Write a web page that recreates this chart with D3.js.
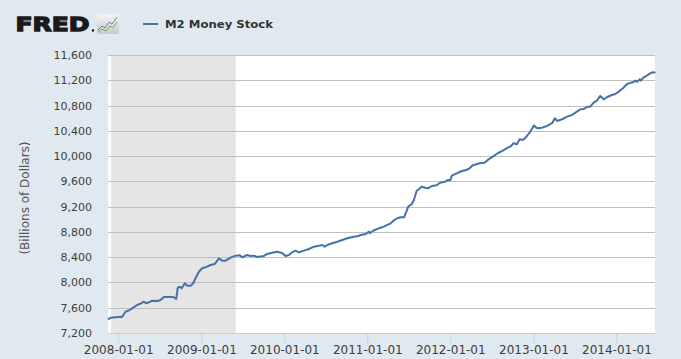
<!DOCTYPE html>
<html><head><meta charset="utf-8">
<script src="https://cdn.jsdelivr.net/npm/d3@7"></script>
<style>html,body{margin:0;padding:0;background:#E1E9F0;} svg{display:block}</style>
</head><body>
<svg id="c" width="681" height="359"></svg>
<script>
// ---- data ----
const dates = [
"2007-11-17","2007-11-29","2008-01-11","2008-01-18","2008-02-02","2008-02-17","2008-03-02","2008-03-24","2008-04-08","2008-04-23",
"2008-05-03","2008-05-15","2008-05-29","2008-06-20","2008-07-05","2008-07-20","2008-08-18","2008-09-02","2008-09-12","2008-09-19",
"2008-09-28","2008-10-06","2008-10-20","2008-10-30","2008-11-14","2008-11-26","2008-12-06","2008-12-21","2009-01-04","2009-01-19",
"2009-02-10","2009-03-01","2009-03-19","2009-04-02","2009-04-17","2009-05-09","2009-05-31","2009-06-19","2009-06-29","2009-07-21",
"2009-08-05","2009-08-20","2009-09-03","2009-10-03","2009-10-17","2009-11-08","2009-11-30","2009-12-22","2010-01-06","2010-01-21",
"2010-02-04","2010-02-19","2010-03-06","2010-03-28","2010-04-19","2010-05-11","2010-06-02","2010-06-17","2010-06-27","2010-07-09",
"2010-07-31","2010-08-22","2010-09-13","2010-10-05","2010-10-27","2010-11-18","2010-12-03","2010-12-25","2011-01-08","2011-01-12",
"2011-01-30","2011-02-21","2011-03-15","2011-03-30","2011-04-14","2011-04-28","2011-05-13","2011-05-28","2011-06-12","2011-06-18",
"2011-06-30","2011-07-15","2011-07-25","2011-08-06","2011-08-28","2011-09-12","2011-09-27","2011-10-11","2011-11-02","2011-11-17",
"2011-12-09","2011-12-21","2012-01-01","2012-01-08","2012-01-27","2012-02-18","2012-03-11","2012-03-26","2012-04-09","2012-04-24",
"2012-05-09","2012-05-31","2012-06-14","2012-07-06","2012-07-28","2012-08-19","2012-09-10","2012-09-25","2012-10-05","2012-10-20",
"2012-11-01","2012-11-15","2012-11-27","2012-12-15","2013-01-03","2013-01-17","2013-02-08","2013-03-02","2013-03-24","2013-04-05",
"2013-04-15","2013-05-07","2013-05-29","2013-06-20","2013-07-05","2013-07-27","2013-08-10","2013-08-28","2013-09-08","2013-09-23",
"2013-10-07","2013-10-22","2013-11-06","2013-11-20","2013-12-12","2013-12-27","2014-01-11","2014-01-30","2014-02-17","2014-03-06",
"2014-03-18","2014-03-26","2014-04-02","2014-04-14","2014-04-19","2014-05-01","2014-05-15","2014-05-30","2014-06-11","2014-06-22"
];
const values = [
7417,7442,7458,7453,7537,7559,7590,7643,7664,7695,
7670,7686,7711,7706,7722,7770,7770,7765,7738,7917,
7933,7907,7987,7949,7949,7987,8066,8170,8224,8240,
8276,8292,8382,8345,8345,8392,8424,8430,8398,8435,
8420,8424,8403,8420,8451,8471,8487,8466,8420,8435,
8477,8503,8477,8503,8530,8566,8582,8593,8566,8593,
8620,8645,8672,8699,8720,8731,8751,8767,8804,8778,
8826,8857,8883,8910,8936,8984,9016,9031,9031,9085,
9200,9238,9306,9448,9516,9500,9490,9527,9538,9579,
9595,9622,9617,9690,9722,9760,9780,9807,9855,9871,
9886,9896,9939,9992,10045,10086,10133,10160,10203,10187,
10266,10255,10292,10371,10485,10440,10450,10477,10520,10599,
10556,10583,10624,10651,10687,10741,10746,10782,10782,10845,
10877,10952,10899,10931,10967,10983,11020,11073,11141,11162,
11173,11194,11178,11216,11194,11247,11273,11311,11327,11321
];
const yTickValues = [7200,7600,8000,8400,8800,9200,9600,10000,10400,10800,11200,11600];
const xTickDates = ["2008-01-01","2009-01-01","2010-01-01","2011-01-01","2012-01-01","2013-01-01","2014-01-01"];
const recession = ["2007-12-01","2009-06-01"];
const seriesName = "M2 Money Stock";
const yTitle = "(Billions of Dollars)";

// ---- chart ----
const parse = d3.timeParse("%Y-%m-%d");
const data = dates.map((d,i)=>({date: parse(d), value: values[i]}));
const P = {left:108, right:655.5, top:55, bottom:333};
const svg = d3.select("#c");
const FONT = "DejaVu Sans, Verdana, sans-serif";

const x = d3.scaleTime().domain(d3.extent(data, d=>d.date)).range([P.left, P.right]);
const y = d3.scaleLinear().domain([7200, 11600]).range([P.bottom, P.top]);

svg.append("rect").attr("width",681).attr("height",359).attr("fill","#E1E9F0");
svg.append("rect").attr("x",P.left).attr("y",P.top).attr("width",655-P.left).attr("height",P.bottom-P.top).attr("fill","#fff");

// recession band
const r0 = x(parse(recession[0])), r1 = x(parse(recession[1]));
svg.append("rect").attr("x",r0).attr("y",P.top).attr("width",r1-r0).attr("height",P.bottom-P.top).attr("fill","#E5E5E5");

// gridlines
const yAxis = d3.axisLeft(y).tickValues(yTickValues).tickSize(-(655-P.left)).tickFormat(d3.format(","));
const gy = svg.append("g").attr("transform",`translate(${P.left},0)`).call(yAxis);
gy.select(".domain").remove();
gy.selectAll(".tick line").attr("stroke","#C0C0C0").attr("shape-rendering","crispEdges")
  .filter(d=>d===7200).remove();
gy.selectAll(".tick text").attr("x",-16).attr("fill","#3d3d3d")
  .style("font-family",FONT).style("font-size","11px");

// x axis
const xAxis = d3.axisBottom(x).tickValues(xTickDates.map(parse)).tickSize(10).tickFormat(d3.timeFormat("%Y-%m-%d"));
const gx = svg.append("g").attr("transform",`translate(0,${P.bottom})`).call(xAxis);
gx.select(".domain").attr("d",`M${P.left},0.5H655`).attr("stroke","#C0D0E0");
gx.selectAll(".tick line").attr("stroke","#C0D0E0");
gx.selectAll(".tick text").attr("y",12).attr("dy","0.71em").attr("fill","#3d3d3d")
  .style("font-family",FONT).style("font-size","12px");

// line
svg.append("path").datum(data)
  .attr("d", d3.line().x(d=>x(d.date)).y(d=>y(d.value)))
  .attr("fill","none").attr("stroke","#4572A7").attr("stroke-width",2).attr("stroke-linejoin","round");

// y title
svg.append("text").attr("transform","translate(29,198) rotate(-90)").attr("text-anchor","middle")
  .attr("fill","#555").style("font-family",FONT).style("font-size","12px").text(yTitle);

// FRED logo
svg.append("text").attr("x",15.5).attr("y",31).attr("fill","#1a1a1a").attr("stroke","#1a1a1a").attr("stroke-width",1.3)
  .style("font-family",FONT).style("font-weight","bold").style("font-size","20px")
  .attr("textLength",74).attr("lengthAdjust","spacingAndGlyphs").text("FRED");
svg.append("circle").attr("cx",93).attr("cy",30.5).attr("r",1.2).attr("fill","#1a1a1a");
const grad = svg.append("defs").append("linearGradient").attr("id","lg").attr("x1",0).attr("y1",0).attr("x2",0).attr("y2",1);
grad.append("stop").attr("offset",0).attr("stop-color","#f4f4f4");
grad.append("stop").attr("offset",1).attr("stop-color","#c8c8c8");
svg.append("rect").attr("x",97).attr("y",14).attr("width",22).attr("height",20).attr("rx",2).attr("fill","url(#lg)");
svg.append("polyline").attr("points","98,30 102,26 105,28 109,22 112,24 117,17").attr("fill","none").attr("stroke","#5a86c0").attr("stroke-width",1);
svg.append("polyline").attr("points","98,32 102,29 106,31 110,26 113,28 117,22").attr("fill","none").attr("stroke","#7ab648").attr("stroke-width",1);

// legend
svg.append("line").attr("x1",143).attr("x2",158).attr("y1",24).attr("y2",24).attr("stroke","#4572A7").attr("stroke-width",2);
svg.append("text").attr("x",165).attr("y",28).attr("fill","#333")
  .style("font-family",FONT).style("font-weight","bold").style("font-size","11px")
  .attr("textLength",108).attr("lengthAdjust","spacingAndGlyphs").text(seriesName);
</script>
</body></html>
